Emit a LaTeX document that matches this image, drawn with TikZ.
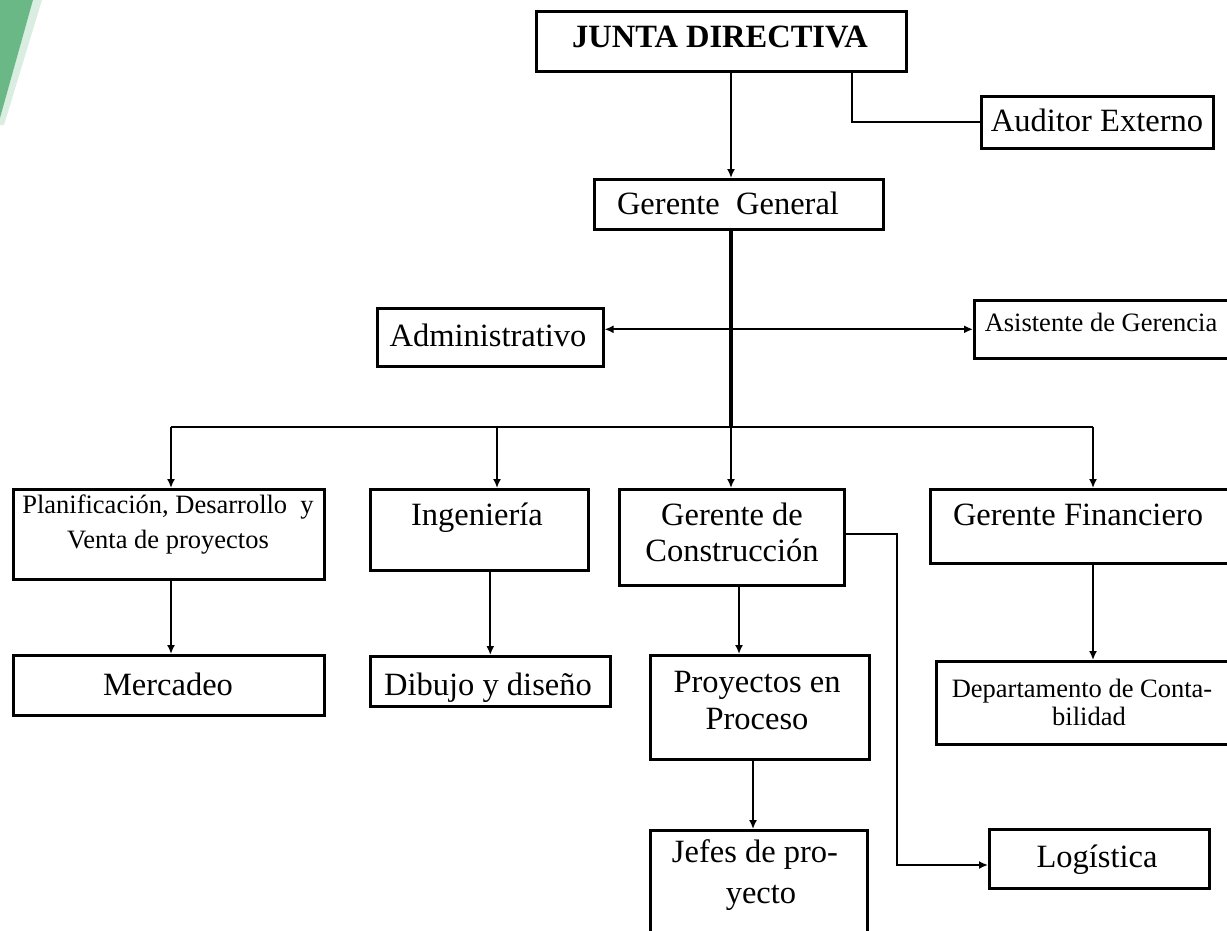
\documentclass[tikz,border=0pt]{standalone}
\usepackage{fontspec}
\setmainfont{Liberation Serif}
\usetikzlibrary{arrows.meta}
\definecolor{leafgreen}{RGB}{106,184,134}
\begin{document}
\begin{tikzpicture}[x=1pt,y=-1pt,
  box/.style={draw=black,line width=2.6pt,rectangle,inner sep=0pt,anchor=north west},
  conn/.style={draw=black,line width=1.7pt},
  trunk/.style={draw=black,line width=3.2pt},
  arr/.style={-{Latex[length=9pt,width=8pt]}},
  darr/.style={{Latex[length=9pt,width=8pt]}-{Latex[length=9pt,width=8pt]}},
  txt/.style={font=\fontsize{32.5}{38}\selectfont,inner sep=0pt,anchor=base},
  stxt/.style={font=\fontsize{26.5}{31}\selectfont,inner sep=0pt,anchor=base},
]
\useasboundingbox (0,0) rectangle (1227,930);
% green corner decoration
\fill[leafgreen!25] (33,0) -- (42,0) -- (4,125) -- (0,125) -- (0,118) -- cycle;
\fill[leafgreen] (0,0) -- (33,0) -- (0,118) -- cycle;

% boxes
\node[box,minimum width=370pt,minimum height=60pt] (jd) at (535,10) {};
\node[box,minimum width=232pt,minimum height=52pt] (aud) at (980,95) {};
\node[box,minimum width=289pt,minimum height=50pt] (gg) at (593,178) {};
\node[box,minimum width=226pt,minimum height=58pt] (adm) at (376,307) {};
\node[box,minimum width=262pt,minimum height=58pt] (asi) at (973,299) {};
\node[box,minimum width=311pt,minimum height=90pt] (plan) at (12,488) {};
\node[box,minimum width=218pt,minimum height=81pt] (ing) at (369,488) {};
\node[box,minimum width=225pt,minimum height=96pt] (gc) at (618,488) {};
\node[box,minimum width=300pt,minimum height=74pt] (gf) at (929,488) {};
\node[box,minimum width=311pt,minimum height=60pt] (merc) at (12,654) {};
\node[box,minimum width=240pt,minimum height=50pt] (dib) at (369,655) {};
\node[box,minimum width=219pt,minimum height=104pt] (pp) at (649,654) {};
\node[box,minimum width=300pt,minimum height=83pt] (dep) at (935,660) {};
\node[box,minimum width=217pt,minimum height=125pt] (jf) at (649,829) {};
\node[box,minimum width=220pt,minimum height=59pt] (log) at (988,828) {};

% texts
\node[txt] (jd-t) at (720,47) {\bfseries JUNTA DIRECTIVA};
\node[txt] (aud-t) at (1097,131) {Auditor Externo};
\node[txt] (gg-t) at (728,214) {Gerente\ \ General};
\node[txt] (adm-t) at (488,346) {Administrativo};
\node[stxt] (asi-t) at (1101,331) {Asistente de Gerencia};
\node[stxt] (plan-t1) at (168,513) {Planificación, Desarrollo\ \ y};
\node[stxt] (plan-t2) at (168,548) {Venta de proyectos};
\node[txt] (merc-t) at (168,695) {Mercadeo};
\node[txt] (ing-t) at (477,525) {Ingeniería};
\node[txt] (dib-t) at (488,695) {Dibujo y diseño};
\node[txt] (gc-t1) at (732,525) {Gerente de};
\node[txt] (gc-t2) at (732,561) {Construcción};
\node[txt] (gf-t) at (1078,525) {Gerente Financiero};
\node[txt] (pp-t1) at (757,692) {Proyectos en};
\node[txt] (pp-t2) at (757,729) {Proceso};
\node[stxt] (dep-t1) at (1082,697) {Departamento de Conta-};
\node[stxt] (dep-t2) at (1089,725) {bilidad};
\node[txt] (jf-t1) at (755,862) {Jefes de pro-};
\node[txt] (jf-t2) at (761,903) {yecto};
\node[txt] (log-t) at (1097,867) {Logística};

% helper coordinates
\coordinate (tx) at (731,0);
\coordinate (ax) at (852,0);
\coordinate (br) at (731,427);
\coordinate (b1) at (171,427);
\coordinate (b2) at (497,427);
\coordinate (b4) at (1093,427);
\coordinate (px) at (739,0);
\coordinate (jx) at (753,0);
\coordinate (lx) at (897,865);

% connectors
\draw[conn,arr] (jd.south -| tx) -- (gg.north -| tx);
\draw[conn] (jd.south -| ax) |- (aud.west);
\draw[trunk] (gg.south -| tx) -- (br);
\draw[conn,line width=2pt] (b1) -- (b4);
\draw[conn,darr] (adm.east |- asi.west) -- (asi.west);
\draw[conn,arr] (b1) -- (b1 |- plan.north);
\draw[conn,arr] (b2) -- (b2 |- ing.north);
\draw[conn,arr] (br) -- (br |- gc.north);
\draw[conn,arr] (b4) -- (b4 |- gf.north);
\draw[conn,arr] (plan.south -| b1) -- (merc.north -| b1);
\draw[conn,arr] (ing.south -| dib.north) -- (dib.north);
\draw[conn,arr] (gc.south -| px) -- (pp.north -| px);
\draw[conn,arr] (pp.south -| jx) -- (jf.north -| jx);
\draw[conn,arr] ([yshift=3pt]gc.east) -| (lx) -- (lx -| log.west);
\draw[conn,arr] (gf.south -| b4) -- (dep.north -| b4);
\end{tikzpicture}
\end{document}
